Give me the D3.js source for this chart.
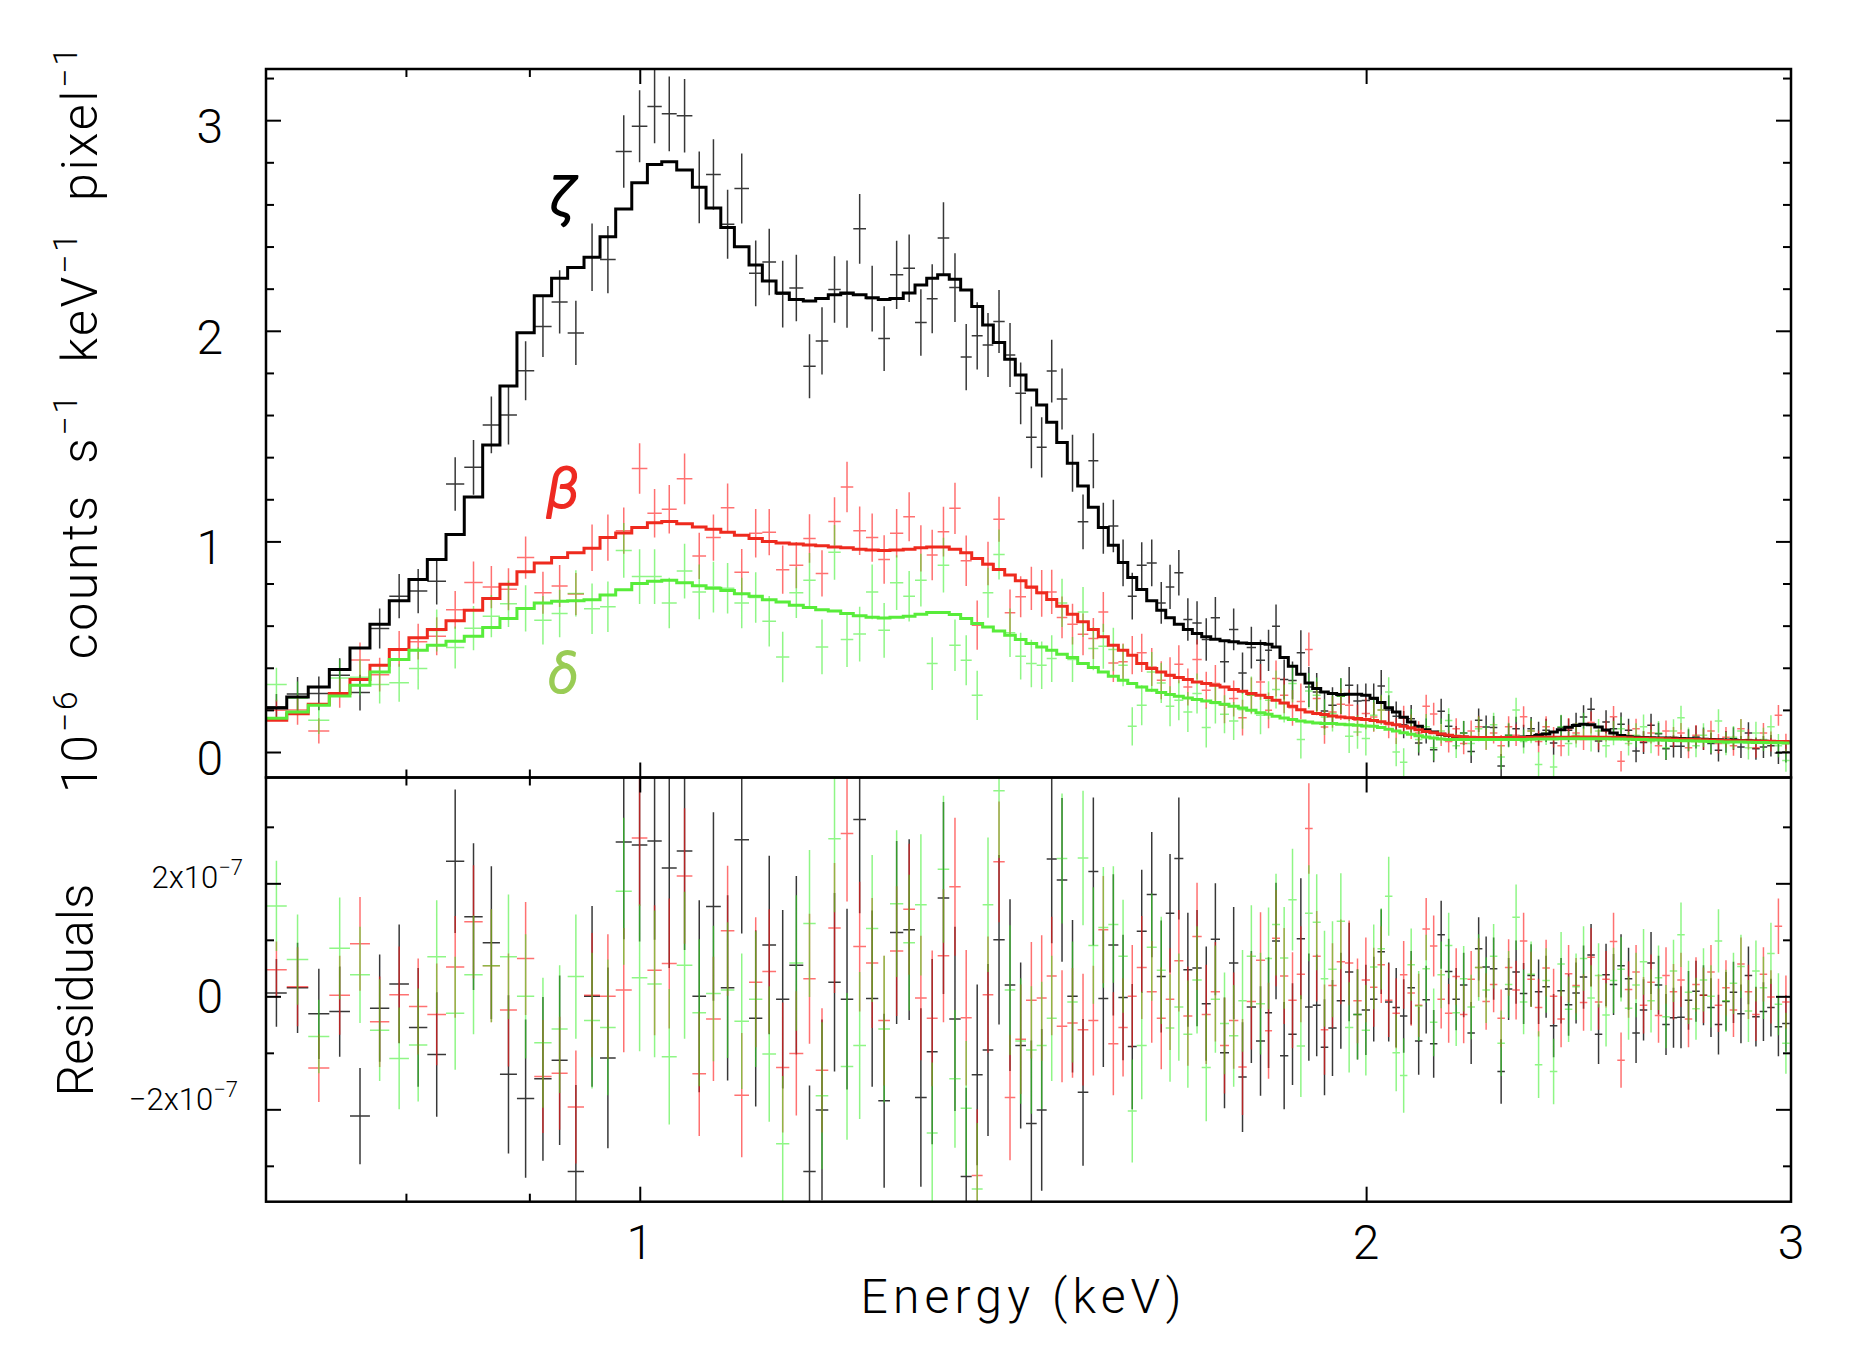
<!DOCTYPE html>
<html>
<head>
<meta charset="utf-8">
<script src="https://cdn.jsdelivr.net/npm/d3@7"></script>
<style>
  html, body { margin: 0; padding: 0; background: #fff; }
  svg { display: block; }
  text { font-family: Roboto, "DejaVu Sans", sans-serif; font-weight: 300; white-space: pre; }
</style>
</head>
<body>
<svg id="chart" width="1870" height="1352"></svg>
<script>
// channel edges (keV), shared by the three spectra
const energyEdges = [
  0.7000, 0.7140, 0.7288, 0.7436, 0.7584, 0.7730, 0.7874, 0.8023, 0.8165, 0.8312,
  0.8458, 0.8608, 0.8751, 0.8894, 0.9042, 0.9193, 0.9335, 0.9482, 0.9628, 0.9773,
  0.9924, 1.0073, 1.0212, 1.0359, 1.0515, 1.0653, 1.0804, 1.0945, 1.1099, 1.1241,
  1.1389, 1.1534, 1.1689, 1.1828, 1.1971, 1.2114, 1.2260, 1.2410, 1.2556, 1.2697,
  1.2859, 1.3004, 1.3150, 1.3288, 1.3436, 1.3583, 1.3727, 1.3871, 1.4013, 1.4166,
  1.4310, 1.4457, 1.4605, 1.4745, 1.4887, 1.5038, 1.5188, 1.5343, 1.5490, 1.5638,
  1.5789, 1.5931, 1.6068, 1.6222, 1.6378, 1.6519, 1.6655, 1.6799, 1.6944, 1.7096,
  1.7244, 1.7397, 1.7547, 1.7704, 1.7846, 1.8005, 1.8161, 1.8283, 1.8422, 1.8569,
  1.8718, 1.8867, 1.9006, 1.9152, 1.9291, 1.9446, 1.9601, 1.9757, 1.9916, 2.0074,
  2.0218, 2.0363, 2.0509, 2.0656, 2.0804, 2.0954, 2.1104, 2.1256, 2.1408, 2.1562,
  2.1717, 2.1873, 2.2030, 2.2188, 2.2347, 2.2507, 2.2669, 2.2832, 2.2995, 2.3160,
  2.3327, 2.3494, 2.3663, 2.3833, 2.4004, 2.4176, 2.4350, 2.4524, 2.4700, 2.4878,
  2.5056, 2.5236, 2.5417, 2.5600, 2.5784, 2.5969, 2.6155, 2.6343, 2.6532, 2.6722,
  2.6914, 2.7107, 2.7302, 2.7498, 2.7695, 2.7894, 2.8094, 2.8296, 2.8499, 2.8703,
  2.8909, 2.9117, 2.9326, 2.9536, 2.9748, 2.9962
];

// zeta (black), units of 1e-6 counts/s/keV/pixel
const zetaCounts = [
  0.215, 0.276, 0.278, 0.365, 0.282, 0.586, 0.740, 0.764, 0.811, 1.272,
  1.352, 1.553, 1.600, 1.810, 2.020, 2.137, 1.990, 2.349, 2.338, 2.851,
  2.971, 3.065, 3.030, 3.021, 2.681, 2.742, 2.506, 2.676, 2.273, 2.327,
  2.174, 2.203, 1.832, 1.952, 2.196, 2.174, 2.484, 2.153, 1.963, 2.266,
  2.297, 2.039, 2.152, 2.440, 2.205, 1.875, 1.976, 1.933, 2.044, 1.885,
  1.703, 1.494, 1.447, 1.809, 1.676, 1.371, 1.093, 1.383, 1.062, 1.073,
  0.898, 0.740, 0.887, 0.898, 0.708, 0.784, 0.851, 0.629, 0.613, 0.534,
  0.637, 0.428, 0.582, 0.375, 0.496, 0.436, 0.483, 0.597, 0.344, 0.340,
  0.471, 0.309, 0.285, 0.195, 0.222, 0.265, 0.317, 0.242, 0.245,
  0.250, 0.314, 0.200, 0.170, 0.130, 0.158, 0.043, 0.100, 0.011, 0.193,
  0.122, 0.068, 0.090, 0.003, 0.151, 0.119, 0.116, -0.066, 0.080, 0.111,
  0.075, 0.111, 0.087, 0.103, 0.043, 0.116, 0.103, 0.132, 0.166, 0.203,
  0.052, 0.143, 0.111, 0.132, 0.103, 0.005, 0.045, 0.127, 0.087, 0.016,
  0.027, 0.027, 0.056, 0.071, 0.063, 0.040, 0.008, 0.048, 0.063, 0.024,
  0.090, 0.016, 0.024, 0.030, -0.005, 0.000
];
const zetaErrors = [
  0.060, 0.080, 0.080, 0.080, 0.085, 0.095, 0.105, 0.105, 0.110, 0.127,
  0.130, 0.135, 0.140, 0.140, 0.145, 0.150, 0.153, 0.160, 0.160, 0.172,
  0.171, 0.175, 0.177, 0.175, 0.170, 0.167, 0.164, 0.166, 0.156, 0.158,
  0.158, 0.158, 0.152, 0.160, 0.158, 0.160, 0.166, 0.156, 0.154, 0.162,
  0.160, 0.158, 0.164, 0.170, 0.163, 0.157, 0.160, 0.152, 0.150, 0.152,
  0.147, 0.147, 0.143, 0.149, 0.145, 0.135, 0.130, 0.131, 0.121, 0.125,
  0.111, 0.111, 0.109, 0.111, 0.099, 0.105, 0.108, 0.101, 0.103, 0.101,
  0.099, 0.098, 0.099, 0.097, 0.099, 0.097, 0.098, 0.103, 0.095, 0.090,
  0.107, 0.095, 0.090, 0.085, 0.085, 0.085, 0.087, 0.080, 0.080,
  0.075, 0.075, 0.070, 0.070, 0.065, 0.065, 0.060, 0.060, 0.060, 0.060,
  0.058, 0.055, 0.057, 0.055, 0.056, 0.054, 0.055, 0.057, 0.055, 0.056,
  0.054, 0.055, 0.057, 0.055, 0.056, 0.058, 0.055, 0.054, 0.056, 0.055,
  0.053, 0.055, 0.054, 0.056, 0.055, 0.053, 0.054, 0.055, 0.052, 0.054,
  0.053, 0.055, 0.052, 0.054, 0.053, 0.052, 0.053, 0.052, 0.054, 0.052,
  0.051, 0.053, 0.052, 0.051, 0.052, 0.050
];
const zetaModel = [
  0.209, 0.261, 0.309, 0.392, 0.494, 0.607, 0.718, 0.819, 0.914, 1.033,
  1.211, 1.458, 1.738, 1.991, 2.166, 2.250, 2.300, 2.349, 2.447, 2.578,
  2.703, 2.790, 2.803, 2.764, 2.681, 2.583, 2.491, 2.399, 2.312, 2.236,
  2.179, 2.148, 2.142, 2.153, 2.171, 2.179, 2.171, 2.157, 2.148, 2.153,
  2.179, 2.218, 2.250, 2.266, 2.245, 2.194, 2.115, 2.028, 1.944, 1.865,
  1.790, 1.719, 1.648, 1.566, 1.470, 1.371, 1.263, 1.162, 1.066, 0.982,
  0.900, 0.829, 0.772, 0.718, 0.673, 0.637, 0.607, 0.582, 0.563, 0.547,
  0.536, 0.528, 0.523, 0.518, 0.515, 0.515, 0.512, 0.499, 0.449, 0.407,
  0.369, 0.328, 0.301, 0.285, 0.278, 0.273, 0.274, 0.274, 0.269,
  0.255, 0.235, 0.210, 0.190, 0.165, 0.143, 0.122, 0.106, 0.095, 0.084,
  0.078, 0.073, 0.070, 0.068, 0.067, 0.067, 0.067, 0.067, 0.067, 0.068,
  0.070, 0.074, 0.079, 0.086, 0.095, 0.106, 0.118, 0.126, 0.132, 0.130,
  0.119, 0.105, 0.090, 0.078, 0.072, 0.070, 0.069, 0.068, 0.067, 0.066,
  0.065, 0.064, 0.063, 0.062, 0.061, 0.060, 0.058, 0.057, 0.056, 0.055,
  0.053, 0.052, 0.051, 0.050, 0.049, 0.048
];

// beta (red)
const betaCounts = [
  0.198, 0.199, 0.100, 0.280, 0.437, 0.367, 0.490, 0.524, 0.550, 0.675,
  0.805, 0.783, 0.773, 0.923, 0.756, 0.788, 0.750, 0.970, 1.018, 1.051,
  1.346, 1.134, 1.153, 1.297, 0.931, 1.018, 1.160, 0.854, 1.039, 1.044,
  0.866, 0.887, 1.014, 0.848, 1.095, 1.258, 1.051, 1.018, 0.914, 1.039,
  1.117, 0.967, 0.935, 1.046, 1.157, 0.908, 0.602, 0.895, 1.105, 0.661,
  0.737, 0.777, 0.753, 0.760, 0.639, 0.607, 0.559, 0.539, 0.665, 0.423,
  0.428, 0.460, 0.471, 0.404, 0.341, 0.360, 0.417, 0.309, 0.439, 0.293,
  0.325, 0.222, 0.254, 0.163, 0.269, 0.333, 0.198, 0.349, 0.269, 0.210,
  0.240, 0.487, 0.254, 0.119, 0.190, 0.227, 0.222, 0.151, 0.183,
  0.166, 0.200, 0.130, 0.100, 0.160, 0.120, 0.090, 0.217, 0.180, 0.080,
  0.050, 0.110, 0.040, 0.100, 0.120, 0.060, 0.090, 0.030, 0.120, 0.080,
  0.167, 0.100, 0.050, 0.120, 0.070, 0.030, 0.110, 0.090, 0.060, 0.140,
  0.060, 0.100, 0.167, -0.044, 0.080, 0.110, 0.050, 0.090, 0.030, 0.100,
  0.070, 0.090, 0.020, 0.080, 0.060, 0.100, 0.040, 0.070, 0.030, 0.110,
  0.060, 0.020, 0.090, 0.050, 0.174, 0.040
];
const betaErrors = [
  0.050, 0.070, 0.060, 0.070, 0.083, 0.080, 0.085, 0.085, 0.090, 0.090,
  0.100, 0.100, 0.100, 0.100, 0.100, 0.100, 0.100, 0.110, 0.110, 0.110,
  0.120, 0.115, 0.115, 0.120, 0.110, 0.110, 0.115, 0.110, 0.115, 0.110,
  0.115, 0.110, 0.115, 0.110, 0.115, 0.120, 0.115, 0.115, 0.115, 0.115,
  0.116, 0.110, 0.120, 0.118, 0.122, 0.120, 0.117, 0.103, 0.107, 0.111,
  0.097, 0.103, 0.111, 0.105, 0.099, 0.097, 0.099, 0.097, 0.095, 0.091,
  0.087, 0.091, 0.091, 0.090, 0.090, 0.090, 0.090, 0.088, 0.095, 0.088,
  0.088, 0.085, 0.085, 0.085, 0.085, 0.085, 0.085, 0.085, 0.085, 0.085,
  0.085, 0.080, 0.080, 0.080, 0.075, 0.075, 0.075, 0.075, 0.075,
  0.070, 0.068, 0.065, 0.062, 0.060, 0.058, 0.056, 0.055, 0.054, 0.052,
  0.052, 0.050, 0.051, 0.050, 0.052, 0.050, 0.049, 0.051, 0.050, 0.052,
  0.050, 0.049, 0.051, 0.050, 0.049, 0.050, 0.051, 0.049, 0.050, 0.052,
  0.049, 0.050, 0.051, 0.049, 0.050, 0.048, 0.050, 0.049, 0.048, 0.050,
  0.049, 0.048, 0.050, 0.048, 0.049, 0.048, 0.047, 0.049, 0.048, 0.047,
  0.048, 0.047, 0.048, 0.047, 0.049, 0.047
];
const betaModel = [
  0.151, 0.182, 0.227, 0.278, 0.344, 0.412, 0.487, 0.542, 0.582, 0.623,
  0.673, 0.729, 0.797, 0.856, 0.898, 0.924, 0.946, 0.968, 1.018, 1.040,
  1.066, 1.088, 1.095, 1.084, 1.068, 1.058, 1.044, 1.029, 1.014, 1.000,
  0.992, 0.988, 0.983, 0.979, 0.974, 0.970, 0.963, 0.959, 0.957, 0.959,
  0.963, 0.970, 0.974, 0.974, 0.963, 0.946, 0.919, 0.892, 0.867, 0.840,
  0.813, 0.784, 0.756, 0.724, 0.692, 0.654, 0.618, 0.582, 0.547, 0.507,
  0.483, 0.460, 0.420, 0.396, 0.380, 0.365, 0.354, 0.344, 0.333, 0.325,
  0.317, 0.309, 0.297, 0.288, 0.278, 0.269, 0.259, 0.246, 0.233, 0.217,
  0.201, 0.190, 0.183, 0.178, 0.171, 0.166, 0.163, 0.159, 0.154,
  0.150, 0.144, 0.137, 0.130, 0.122, 0.114, 0.106, 0.098, 0.091, 0.085,
  0.080, 0.075, 0.072, 0.070, 0.069, 0.069, 0.069, 0.069, 0.069, 0.069,
  0.069, 0.070, 0.070, 0.070, 0.070, 0.070, 0.070, 0.071, 0.071, 0.071,
  0.070, 0.070, 0.070, 0.069, 0.068, 0.067, 0.066, 0.065, 0.064, 0.063,
  0.062, 0.061, 0.060, 0.059, 0.058, 0.057, 0.056, 0.055, 0.054, 0.053,
  0.052, 0.052, 0.051, 0.051, 0.050, 0.050
];

// delta (green)
const deltaCounts = [
  0.320, 0.255, 0.151, 0.351, 0.355, 0.320, 0.329, 0.397, 0.577, 0.496,
  0.588, 0.645, 0.704, 0.682, 0.626, 0.658, 0.753, 0.680, 0.690, 0.957,
  0.833, 0.833, 0.708, 0.859, 0.760, 0.783, 0.778, 0.708, 0.734, 0.621,
  0.451, 0.756, 0.815, 0.499, 0.948, 0.534, 0.560, 0.760, 0.578, 0.804,
  0.740, 0.816, 0.420, 0.887, 0.507, 0.436, 0.269, 0.756, 0.938, 0.566,
  0.455, 0.420, 0.412, 0.444, 0.708, 0.439, 0.665, 0.491, 0.502, 0.487,
  0.412, 0.122, 0.222, 0.380, 0.328, 0.217, 0.246, 0.190, 0.278, 0.116,
  0.230, 0.179, 0.147, 0.201, 0.269, 0.174, 0.246, 0.297, 0.230, 0.325,
  0.059, 0.290, 0.269, 0.166, 0.183, 0.265, 0.075, 0.095, 0.064,
  0.174, 0.200, 0.285, 0.000, -0.048, 0.140, 0.060, 0.120, 0.020, 0.100,
  0.150, 0.030, 0.090, 0.040, 0.110, 0.070, 0.130, -0.024, 0.080, 0.200,
  0.050, 0.100, -0.059, 0.090, -0.071, 0.120, 0.040, 0.080, 0.130, 0.060,
  0.100, 0.030, 0.090, 0.110, 0.040, 0.080, 0.120, 0.050, 0.090, 0.020,
  0.100, 0.163, 0.060, 0.030, 0.080, 0.050, 0.147, 0.040, 0.070, 0.100,
  0.020, 0.090, 0.060, 0.120, 0.030, -0.040
];
const deltaErrors = [
  0.080, 0.080, 0.065, 0.090, 0.085, 0.090, 0.090, 0.100, 0.100, 0.100,
  0.105, 0.100, 0.110, 0.110, 0.115, 0.113, 0.110, 0.120, 0.120, 0.130,
  0.130, 0.130, 0.120, 0.130, 0.130, 0.120, 0.120, 0.120, 0.120, 0.120,
  0.120, 0.120, 0.130, 0.130, 0.130, 0.130, 0.130, 0.130, 0.130, 0.130,
  0.120, 0.125, 0.125, 0.130, 0.122, 0.119, 0.117, 0.119, 0.119, 0.115,
  0.111, 0.113, 0.113, 0.111, 0.115, 0.107, 0.119, 0.103, 0.107, 0.103,
  0.100, 0.091, 0.095, 0.095, 0.095, 0.095, 0.095, 0.095, 0.095, 0.095,
  0.095, 0.090, 0.090, 0.090, 0.090, 0.090, 0.090, 0.090, 0.090, 0.090,
  0.090, 0.085, 0.085, 0.085, 0.085, 0.085, 0.080, 0.080, 0.080,
  0.075, 0.072, 0.070, 0.068, 0.066, 0.064, 0.062, 0.060, 0.060, 0.059,
  0.058, 0.059, 0.058, 0.057, 0.059, 0.058, 0.057, 0.058, 0.059, 0.058,
  0.057, 0.058, 0.059, 0.057, 0.058, 0.057, 0.058, 0.059, 0.057, 0.058,
  0.057, 0.056, 0.058, 0.057, 0.056, 0.057, 0.058, 0.056, 0.057, 0.056,
  0.055, 0.057, 0.056, 0.055, 0.056, 0.055, 0.056, 0.055, 0.054, 0.056,
  0.055, 0.054, 0.055, 0.054, 0.055, 0.054
];
const deltaModel = [
  0.160, 0.190, 0.222, 0.266, 0.317, 0.380, 0.439, 0.483, 0.507, 0.526,
  0.550, 0.591, 0.634, 0.682, 0.708, 0.716, 0.718, 0.723, 0.745, 0.771,
  0.800, 0.811, 0.815, 0.804, 0.789, 0.778, 0.767, 0.752, 0.739, 0.723,
  0.712, 0.697, 0.686, 0.675, 0.669, 0.658, 0.647, 0.640, 0.636, 0.640,
  0.645, 0.654, 0.662, 0.662, 0.653, 0.634, 0.610, 0.594, 0.574, 0.555,
  0.534, 0.515, 0.499, 0.483, 0.464, 0.449, 0.420, 0.401, 0.380, 0.360,
  0.341, 0.325, 0.309, 0.293, 0.282, 0.273, 0.265, 0.257, 0.249, 0.242,
  0.235, 0.227, 0.217, 0.209, 0.198, 0.187, 0.179, 0.170, 0.162, 0.154,
  0.147, 0.143, 0.138, 0.135, 0.135, 0.132, 0.130, 0.127, 0.124,
  0.122, 0.116, 0.108, 0.100, 0.092, 0.084, 0.077, 0.071, 0.066, 0.062,
  0.060, 0.059, 0.059, 0.059, 0.059, 0.059, 0.059, 0.059, 0.059, 0.060,
  0.060, 0.061, 0.062, 0.062, 0.062, 0.063, 0.063, 0.063, 0.063, 0.063,
  0.063, 0.063, 0.062, 0.062, 0.061, 0.060, 0.059, 0.058, 0.057, 0.056,
  0.055, 0.054, 0.053, 0.052, 0.051, 0.050, 0.049, 0.048, 0.047, 0.047,
  0.046, 0.045, 0.045, 0.044, 0.044, 0.043
];

// axes
const xMajorTicks = [1, 2, 3];
const xMinorTicks = [0.8, 0.9];
const xTickLabels = ["1", "2", "3"];
const countMajorTicks = [0, 1, 2, 3];
const countMinorTicks = [0.2, 0.4, 0.6, 0.8, 1.2, 1.4, 1.6, 1.8, 2.2, 2.4, 2.6, 2.8, 3.2];
const countTickLabels = ["0", "1", "2", "3"];
const residMajorTicks = [-0.2, 0, 0.2];
const residMinorTicks = [-0.3, -0.1, 0.1, 0.3];

// ---------- drawing ----------
const svg = d3.select("#chart");
const L = 266, R = 1791, T = 69, MID = 777.5, B = 1201.7;

const x = d3.scaleLog().domain([0.7, 3]).range([L, R]);
const yTop = d3.scaleLinear().domain([-0.121, 3.243]).range([MID, T]);
const yRes = d3.scaleLinear().domain([-0.3635, 0.3873]).range([B, MID]);

const bins = d3.range(energyEdges.length - 1).map(i => ({ lo: energyEdges[i], hi: energyEdges[i + 1] }));

const series = [
  { counts: zetaCounts, errors: zetaErrors, model: zetaModel, data: "#000", dataOp: 0.78, line: "#000" },
  { counts: betaCounts, errors: betaErrors, model: betaModel, data: "#ff1a1a", dataOp: 0.62, line: "#ee2a1e" },
  { counts: deltaCounts, errors: deltaErrors, model: deltaModel, data: "#33ee22", dataOp: 0.55, line: "#58ec3a" }
];

const defs = svg.append("defs");
defs.append("clipPath").attr("id", "clipTop")
  .append("rect").attr("x", L).attr("y", T).attr("width", R - L).attr("height", MID - T);
defs.append("clipPath").attr("id", "clipRes")
  .append("rect").attr("x", L).attr("y", MID).attr("width", R - L).attr("height", B - MID);

function crossPath(vals, errs, ys) {
  let d = "";
  bins.forEach((b, i) => {
    const v = vals[i], e = errs[i];
    const xc = x((b.lo + b.hi) / 2);
    d += `M${x(b.lo)},${ys(v)}H${x(b.hi)}M${xc},${ys(v - e)}V${ys(v + e)}`;
  });
  return d;
}

const gTop = svg.append("g").attr("clip-path", "url(#clipTop)");
const gRes = svg.append("g").attr("clip-path", "url(#clipRes)");

series.forEach(s => {
  gTop.append("path").attr("d", crossPath(s.counts, s.errors, yTop))
    .attr("fill", "none").attr("stroke", s.data).attr("stroke-opacity", s.dataOp).attr("stroke-width", 1.5);
  const resid = s.counts.map((c, i) => c - s.model[i]);
  gRes.append("path").attr("d", crossPath(resid, s.errors, yRes))
    .attr("fill", "none").attr("stroke", s.data).attr("stroke-opacity", s.dataOp).attr("stroke-width", 1.5);
});

const stepLine = d3.line();
series.forEach(s => {
  const pts = bins.flatMap((b, i) => [[x(b.lo), yTop(s.model[i])], [x(b.hi), yTop(s.model[i])]]);
  gTop.append("path").attr("d", stepLine(pts))
    .attr("fill", "none").attr("stroke", s.line).attr("stroke-width", 3).attr("stroke-linejoin", "miter");
});

// frames
[[T, MID], [MID, B]].forEach(([y0, y1]) => {
  svg.append("rect").attr("x", L).attr("y", y0).attr("width", R - L).attr("height", y1 - y0)
    .attr("fill", "none").attr("stroke", "#000").attr("stroke-width", 2.5);
});

// inward ticks drawn with d3 axes
function ticks(axis, tx, ty) {
  const g = svg.append("g").attr("transform", `translate(${tx},${ty})`).call(axis.tickFormat(() => ""));
  g.select(".domain").remove();
  g.selectAll(".tick line").attr("stroke", "#000").attr("stroke-width", 2);
}
[[yTop, countMajorTicks, countMinorTicks], [yRes, residMajorTicks, residMinorTicks]].forEach(([ys, maj, min]) => {
  ticks(d3.axisRight(ys).tickValues(maj).tickSize(15), L, 0);
  ticks(d3.axisRight(ys).tickValues(min).tickSize(8), L, 0);
  ticks(d3.axisLeft(ys).tickValues(maj).tickSize(15), R, 0);
  ticks(d3.axisLeft(ys).tickValues(min).tickSize(8), R, 0);
});
const xMaj = xMajorTicks.filter(v => v < 3);
ticks(d3.axisBottom(x).tickValues(xMaj).tickSize(15), 0, T);
ticks(d3.axisBottom(x).tickValues(xMinorTicks).tickSize(8), 0, T);
ticks(d3.axisTop(x).tickValues(xMaj).tickSize(15), 0, MID);
ticks(d3.axisTop(x).tickValues(xMinorTicks).tickSize(8), 0, MID);
ticks(d3.axisBottom(x).tickValues(xMaj).tickSize(15), 0, MID);
ticks(d3.axisBottom(x).tickValues(xMinorTicks).tickSize(8), 0, MID);
ticks(d3.axisTop(x).tickValues(xMaj).tickSize(15), 0, B);
ticks(d3.axisTop(x).tickValues(xMinorTicks).tickSize(8), 0, B);

// tick labels
countMajorTicks.forEach((v, i) => {
  svg.append("text").attr("x", 223).attr("y", yTop(v) + 23).attr("text-anchor", "end")
    .attr("font-size", 48).text(countTickLabels[i]);
});
xMajorTicks.forEach((v, i) => {
  svg.append("text").attr("x", x(v)).attr("y", 1259).attr("text-anchor", "middle")
    .attr("font-size", 48).text(xTickLabels[i]);
});
svg.append("text").attr("x", 223).attr("y", yRes(0) + 17).attr("text-anchor", "end")
  .attr("font-size", 48).text("0");
[[0.2, "2x10", 243, 5], [-0.2, "\u22122x10", 238, 1]].forEach(([v, base, xr, dy]) => {
  const t = svg.append("text").attr("x", xr).attr("y", yRes(v) + dy).attr("text-anchor", "end").attr("font-size", 31);
  t.append("tspan").text(base);
  t.append("tspan").attr("font-size", 22).attr("dy", -13).text("\u22127");
});

// axis titles
svg.append("text").attr("x", 1021).attr("y", 1313).attr("text-anchor", "middle")
  .attr("font-size", 48).attr("textLength", 321).attr("lengthAdjust", "spacing").text("Energy (keV)");
svg.append("text").attr("transform", "translate(93,990) rotate(-90)").attr("text-anchor", "middle")
  .attr("font-size", 50).text("Residuals");

const yTitle = svg.append("text").attr("transform", "translate(97,420) rotate(-90)")
  .attr("text-anchor", "middle").attr("font-size", 50)
  .attr("textLength", 746).attr("lengthAdjust", "spacing");
[["10", false], ["\u22126", true], ["  counts  s", false], ["\u22121", true],
 ["  keV", false], ["\u22121", true], ["  pixel", false], ["\u22121", true]].forEach(([txt, sup], i, arr) => {
  const prevSup = i > 0 && arr[i - 1][1];
  const ts = yTitle.append("tspan").text(txt);
  if (sup) ts.attr("font-size", 34).attr("dy", -20);
  else if (prevSup) ts.attr("dy", 20);
});

// spectrum tags
[["\u03B6", 562, 216, "#000", 56], ["\u03B2", 563, 507, "#ee2a22", 56], ["\u03B4", 563, 692, "#99cc55", 54]]
  .forEach(([g, gx, gy, col, fs]) => {
    svg.append("text").attr("x", gx).attr("y", gy).attr("text-anchor", "middle")
      .attr("font-size", fs).attr("font-style", "italic").attr("font-weight", 700)
      .attr("fill", col).attr("stroke", col).attr("stroke-width", 2.2).attr("stroke-linejoin", "round")
      .text(g);
  });
</script>
</body>
</html>
